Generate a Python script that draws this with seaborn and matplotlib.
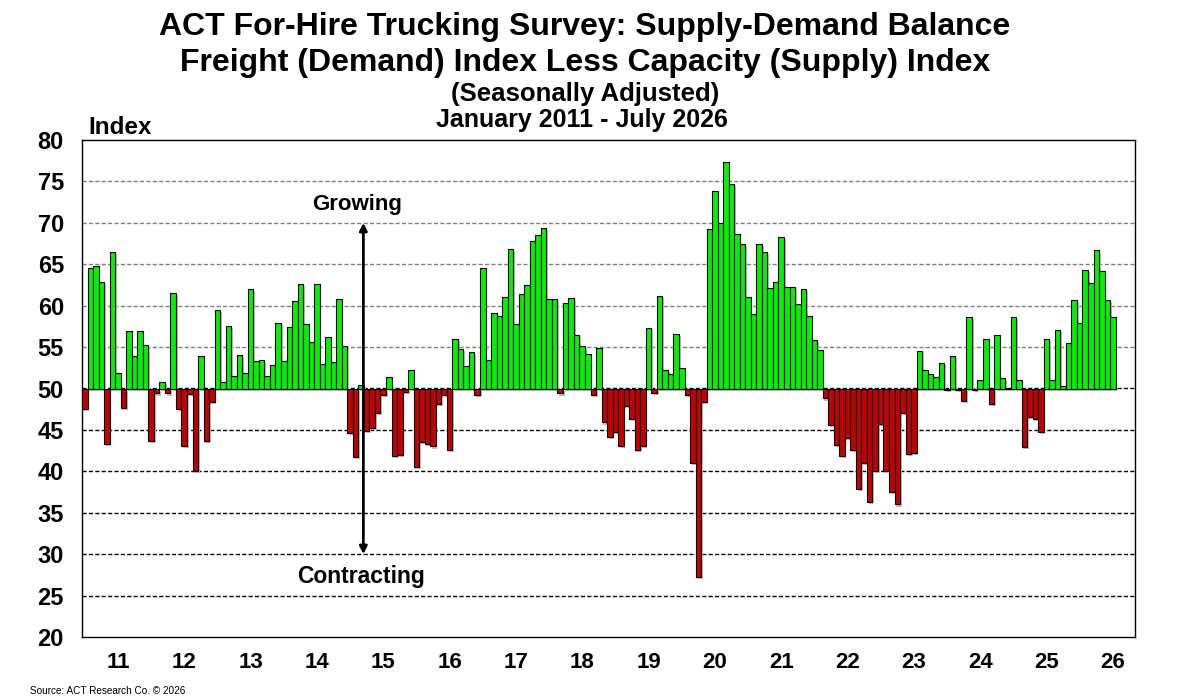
import numpy as np
import pandas as pd
import matplotlib
matplotlib.use("Agg")
import matplotlib.pyplot as plt
import seaborn as sns

# Freight index less capacity index (50 = balance), monthly, Jan 2011 - Jul 2026
y2011 = [47.5, 64.5, 64.75, 62.9, 43.3, 66.45, 51.9, 47.6, 56.9, 53.9, 56.9, 55.3]
y2012 = [43.7, 49.4, 50.8, 49.4, 61.5, 47.5, 43.1, 49.35, 40.1, 53.9, 43.7, 48.4]
y2013 = [59.5, 50.8, 57.6, 51.5, 54.0, 51.9, 62.0, 53.3, 53.45, 51.5, 52.8, 57.9]
y2014 = [53.3, 57.4, 60.6, 62.6, 57.8, 55.6, 62.6, 52.9, 56.2, 53.2, 60.8, 55.1]
y2015 = [44.6, 41.7, 50.4, 44.9, 45.2, 47.0, 49.2, 51.4, 41.8, 42.0, 49.6, 52.2]
y2016 = [40.5, 43.5, 43.35, 43.0, 48.1, 49.2, 42.6, 56.0, 54.8, 52.7, 54.4, 49.2]
y2017 = [64.5, 53.5, 59.15, 58.8, 61.0, 66.85, 57.8, 61.4, 62.5, 67.8, 68.5, 69.35]
y2018 = [60.85, 60.85, 49.4, 60.3, 60.9, 56.45, 55.1, 54.15, 49.2, 54.9, 45.9, 44.1]
y2019 = [44.7, 43.1, 47.9, 46.3, 42.6, 43.1, 57.3, 49.5, 61.2, 52.2, 51.8, 56.6]
y2020 = [52.5, 49.2, 41.05, 27.3, 48.4, 69.3, 73.9, 70.0, 77.3, 74.7, 68.6, 67.4]
y2021 = [61.0, 59.05, 67.4, 66.5, 62.1, 62.8, 68.3, 62.3, 62.3, 60.2, 62.0, 58.75]
y2022 = [55.9, 54.6, 48.8, 45.6, 43.2, 41.85, 44.0, 42.6, 37.9, 41.0, 36.3, 40.1]
y2023 = [45.75, 40.0, 37.5, 36.0, 47.0, 42.1, 42.2, 54.5, 52.2, 51.8, 51.4, 53.1]
y2024 = [49.8, 53.9, 49.8, 48.5, 58.6, 49.8, 51.0, 56.0, 48.1, 56.4, 51.25, 50.1]
y2025 = [58.6, 51.0, 42.9, 46.6, 46.3, 44.8, 56.0, 51.0, 57.1, 50.3, 55.5, 60.7]
y2026 = [57.9, 64.3, 62.7, 66.7, 64.2, 60.7, 58.6]

year_labels = ["11", "12", "13", "14", "15", "16", "17", "18",
               "19", "20", "21", "22", "23", "24", "25", "26"]
y_ticks = list(range(20, 85, 5))

balance = (y2011 + y2012 + y2013 + y2014 + y2015 + y2016 + y2017 + y2018
           + y2019 + y2020 + y2021 + y2022 + y2023 + y2024 + y2025 + y2026)

df = pd.DataFrame({
    "month": pd.date_range("2011-01-01", periods=len(balance), freq="MS"),
    "index": balance,
})
df["pos"] = np.arange(len(df))
df["growing"] = df["index"] >= 50

sns.set_theme(style="white")
plt.rcParams["font.family"] = ["Liberation Sans", "DejaVu Sans"]
plt.rcParams["text.color"] = "black"
plt.rcParams["xtick.color"] = "black"
plt.rcParams["ytick.color"] = "black"

fig = plt.figure(figsize=(11.78, 7), dpi=100)
ax = fig.add_axes([82 / 1178, 63 / 700, (1135 - 82) / 1178, (637 - 140) / 700])

# dashed gridlines (grey above balance, black below, as in the original)
for y in y_ticks[1:-1]:
    ax.axhline(y, color="#808080" if y > 50 else "black", lw=1,
               ls=(0, (3, 1.6)), zorder=0)

# soft drop shadow, then bars
ax.bar(df["pos"] + 0.3, df["index"] - 50, bottom=49.75, width=1.0,
       color="#bdbdbd", linewidth=0, zorder=1)
colors = np.where(df["growing"], "#00F000", "#C00000")
ax.bar(df["pos"], df["index"] - 50, bottom=50, width=1.0, color=colors,
       edgecolor="black", linewidth=0.8, zorder=3)

ax.set_xlim(-0.5, 190)
ax.set_ylim(20, 80)
ax.set_yticks(y_ticks)
ax.set_yticklabels([str(t) for t in y_ticks], fontsize=17, fontweight="bold")
ax.set_xticks([12 * k + 6 for k in range(len(year_labels))])
ax.set_xticklabels(year_labels, fontsize=16, fontweight="bold")
ax.tick_params(axis="x", length=0, pad=11)
ax.tick_params(axis="y", length=0, pad=13)
for s in ax.spines.values():
    s.set_color("black")
    s.set_linewidth(1)
ax.set_facecolor("white")

# growing / contracting arrow
ax.annotate("", xy=(50.4, 30), xytext=(50.4, 70),
            arrowprops=dict(arrowstyle="<|-|>", color="black", lw=2,
                            mutation_scale=11, shrinkA=0, shrinkB=0),
            zorder=5)
ax.text(49.3, 72.2, "Growing", ha="center", va="center",
        fontsize=16, fontweight="bold", zorder=5)
ax.text(50.0, 27.3, "Contracting", ha="center", va="center",
        fontsize=16.5, fontweight="bold", zorder=5)

fig.text(585 / 1178, 1 - 27 / 700,
         "ACT For-Hire Trucking Survey: Supply-Demand Balance",
         ha="center", va="center", fontsize=23, fontweight="bold")
fig.text(585 / 1178, 1 - 63 / 700,
         "Freight (Demand) Index Less Capacity (Supply) Index",
         ha="center", va="center", fontsize=23, fontweight="bold")
fig.text(585 / 1178, 1 - 94 / 700, "(Seasonally Adjusted)",
         ha="center", va="center", fontsize=18.5, fontweight="bold")
fig.text(582 / 1178, 1 - 120 / 700, "January 2011 - July 2026",
         ha="center", va="center", fontsize=18, fontweight="bold")
fig.text(88 / 1178, 1 - 127 / 700, "Index", ha="left", va="center",
         fontsize=17.5, fontweight="bold")
fig.text(30 / 1178, 1 - 691 / 700, "Source: ACT Research Co. \u00a9 2026",
         ha="left", va="center", fontsize=7.2)

fig.savefig("out.png", dpi=100, facecolor="white")
